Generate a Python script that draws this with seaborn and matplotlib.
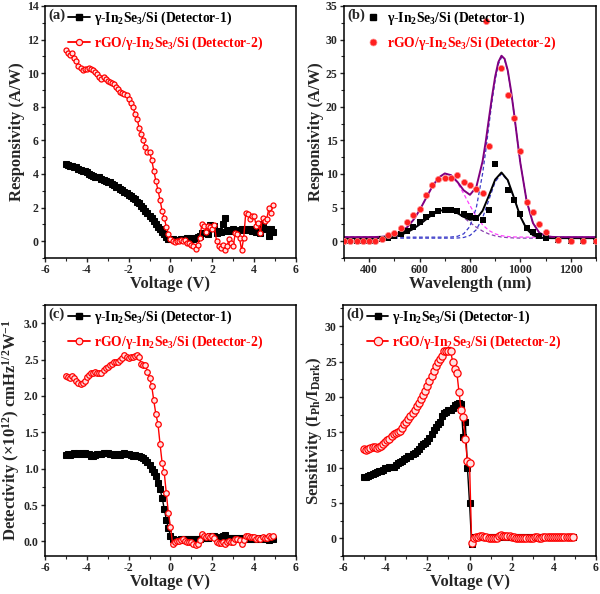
import numpy as np
import matplotlib
matplotlib.use("Agg")
import matplotlib.pyplot as plt
from matplotlib.lines import Line2D
from matplotlib.ticker import AutoMinorLocator, MultipleLocator, FormatStrFormatter
import seaborn as sns

# --- data ---
# voltage sweep (-5.0 ... 4.9 V, 0.1 V steps)
voltage = np.round(np.arange(-5.0, 4.95, 0.1), 1)

resp_det1 = [4.6, 4.55, 4.45, 4.45, 4.4, 4.4, 4.3, 4.25, 4.2, 4.15,
             4.1, 4.0, 3.95, 3.9, 3.85, 3.8, 3.8, 3.7, 3.65, 3.6,
             3.55, 3.5, 3.4, 3.35, 3.25, 3.2, 3.1, 3.05, 2.95, 2.85,
             2.75, 2.7, 2.6, 2.5, 2.35, 2.25, 2.1, 1.95, 1.8, 1.65,
             1.5, 1.38, 1.22, 1.05, 0.87, 0.7, 0.55, 0.4, 0.25, 0.15,
             0.1, 0.1, 0.05, 0.05, 0.05, 0.1, 0.1, 0.1, 0.2, 0.15,
             0.2, 0.15, 0.2, 0.25, 0.3, 0.5, 0.5, 0.5, 0.4, 0.95,
             0.8, 0.9, 0.5, 0.6, 0.55, 1.0, 1.35, 0.6, 0.65, 0.6,
             0.7, 0.6, 0.6, 0.65, 0.7, 0.7, 0.65, 0.7, 0.7, 0.6,
             0.6, 0.55, 0.65, 0.5, 1.0, 0.7, 0.75, 0.3, 0.75, 0.55]
resp_det2 = [11.4, 11.2, 11.1, 11.2, 10.9, 10.7, 10.45, 10.3, 10.2, 10.25,
             10.25, 10.3, 10.25, 10.2, 10.1, 9.95, 9.8, 9.65, 9.75, 9.65,
             9.55, 9.5, 9.4, 9.35, 9.2, 9.05, 8.9, 8.8, 8.75, 8.7,
             8.45, 8.2, 8.0, 7.6, 7.3, 6.75, 6.4, 6.0, 5.6, 5.3,
             5.3, 4.85, 4.2, 3.6, 3.05, 2.45, 1.8, 1.4, 0.85, 0.45,
             0.15, 0.0, -0.05, 0.0, 0.0, 0.05, 0.0, 0.05, -0.1, -0.1,
             -0.2, -0.3, -0.45, -0.2, 0.2, 1.0, 0.9, 0.55, 0.9, 0.85,
             0.75, 0.95, 0.0, -0.3, -0.4, -0.2, -0.5, -0.3, 0.1, -0.1,
             -0.3, 0.5, 0.45, 0.2, -0.55, 0.2, 1.7, 1.6, 1.3, 1.5,
             1.5, 0.9, 1.1, 0.5, 1.4, 1.2, 1.3, 1.95, 1.7, 2.15]

det_det1 = [1.19, 1.2, 1.19, 1.2, 1.21, 1.2, 1.21, 1.2, 1.21, 1.21,
            1.2, 1.2, 1.18, 1.18, 1.19, 1.2, 1.2, 1.2, 1.21, 1.21,
            1.22, 1.2, 1.2, 1.19, 1.2, 1.2, 1.19, 1.2, 1.21, 1.2,
            1.2, 1.19, 1.18, 1.19, 1.18, 1.17, 1.16, 1.14, 1.12, 1.09,
            1.05, 1.0, 0.96, 0.9, 0.8, 0.72, 0.6, 0.45, 0.3, 0.18,
            0.08, 0.03, 0.02, 0.02, 0.02, 0.03, 0.03, 0.03, 0.04, 0.03,
            0.04, 0.03, 0.03, 0.04, 0.04, 0.05, 0.05, 0.05, 0.05, 0.08,
            0.07, 0.07, 0.05, 0.06, 0.05, 0.07, 0.09, 0.05, 0.05, 0.05,
            0.05, 0.04, 0.05, 0.05, 0.04, 0.05, 0.05, 0.04, 0.05, 0.04,
            0.04, 0.05, 0.04, 0.04, 0.05, 0.04, 0.03, 0.02, 0.03, 0.03]
det_det2 = [2.27, 2.26, 2.25, 2.28, 2.24, 2.2, 2.18, 2.17, 2.18, 2.2,
            2.26, 2.29, 2.31, 2.32, 2.33, 2.32, 2.31, 2.31, 2.35, 2.39,
            2.4, 2.42, 2.44, 2.46, 2.47, 2.46, 2.49, 2.52, 2.56, 2.53,
            2.52, 2.54, 2.54, 2.55, 2.56, 2.53, 2.44, 2.42, 2.43, 2.33,
            2.24, 2.14, 1.94, 1.75, 1.62, 1.34, 1.08, 0.95, 0.66, 0.39,
            0.2, -0.03, -0.01, 0.0, 0.01, 0.02, 0.03, 0.0, -0.01, -0.01,
            -0.01, -0.03, -0.05, -0.03, 0.02, 0.1, 0.08, 0.06, 0.07, 0.06,
            0.07, 0.05, -0.01, -0.02, -0.02, -0.01, -0.03, -0.01, 0.0, -0.01,
            -0.01, 0.03, 0.03, 0.02, -0.03, 0.02, 0.08, 0.07, 0.06, 0.06,
            0.06, 0.04, 0.05, 0.03, 0.06, 0.05, 0.05, 0.07, 0.06, 0.08]

sens_det1 = [8.6, 8.7, 8.8, 8.9, 9.1, 9.2, 9.4, 9.45, 9.5, 9.7,
             9.9, 10.0, 10.05, 10.1, 10.1, 10.3, 10.6, 10.8, 11.0, 11.2,
             11.4, 11.6, 11.7, 11.9, 12.0, 12.3, 12.6, 13.0, 13.3, 13.5,
             13.8, 14.2, 14.8, 15.3, 15.7, 16.1, 16.5, 17.3, 17.7, 17.9,
             18.1, 18.2, 18.4, 18.8, 19.0, 19.1, 19.0, 14.3, 16.5, 10.0,
             5.0, -0.8, 0.2, 0.25, 0.2, 0.2, 0.25, 0.2, 0.2, 0.15,
             0.2, 0.2, 0.15, 0.2, 0.25, 0.3, 0.3, 0.25, 0.2, 0.2,
             0.2, 0.15, 0.15, 0.15, 0.15, 0.2, 0.2, 0.15, 0.15, 0.15,
             0.15, 0.2, 0.2, 0.15, 0.15, 0.2, 0.2, 0.2, 0.2, 0.2,
             0.2, 0.2, 0.2, 0.15, 0.2, 0.2, 0.2, 0.15, 0.2, 0.2]
sens_det2 = [12.6, 12.55, 12.6, 12.8, 12.9, 12.85, 12.8, 12.85, 13.0, 13.3,
             13.6, 13.9, 14.1, 14.4, 14.7, 14.9, 15.0, 15.2, 15.6, 16.1,
             16.5, 16.9, 17.3, 17.7, 18.2, 18.7, 19.2, 19.7, 20.2, 20.8,
             21.5, 22.3, 23.0, 23.7, 24.4, 25.0, 25.3, 25.8, 26.5, 26.5,
             26.5, 26.5, 25.0, 24.0, 23.4, 20.7, 18.2, 17.1, 14.0, 10.9,
             10.7, -0.6, 0.1, 0.2, 0.2, 0.3, 0.3, 0.2, 0.2, 0.1,
             0.1, 0.1, 0.0, 0.1, 0.3, 0.4, 0.35, 0.3, 0.3, 0.3,
             0.2, 0.15, 0.1, 0.05, 0.05, 0.05, 0.05, 0.05, 0.1, 0.1,
             0.1, 0.15, 0.15, 0.1, 0.1, 0.15, 0.2, 0.2, 0.2, 0.2,
             0.2, 0.2, 0.2, 0.15, 0.2, 0.2, 0.2, 0.2, 0.2, 0.2]

# spectral responsivity, measured points
wl_det1 = [325, 350, 375, 400, 425, 450, 475, 500, 525, 550, 575, 600, 625, 650, 675,
           700, 725, 750, 775, 800, 825, 850, 875, 900, 950, 975, 1000, 1025, 1050,
           1075, 1100, 1150, 1200, 1250, 1300]
spec_det1 = [0.0, 0.0, 0.0, 0.05, 0.1, 0.3, 0.5, 0.8, 1.1, 1.5, 2.1, 2.9, 3.6, 4.1, 4.5,
             4.6, 4.6, 4.5, 4.1, 3.7, 3.4, 3.1, 4.7, 11.5, 7.6, 6.2, 4.1, 2.0, 1.4,
             0.8, 0.4, 0.2, 0.1, 0.0, 0.0]
wl_det2 = [300, 325, 350, 375, 400, 425, 450, 475, 500, 525, 550, 575, 600, 625, 650,
           675, 700, 725, 750, 775, 800, 825, 850, 863, 875, 925, 950, 975, 1000,
           1025, 1050, 1075, 1100, 1150, 1200, 1250, 1300]
spec_det2 = [0.0, 0.0, 0.0, 0.0, 0.0, 0.0, 0.3, 0.9, 1.2, 1.9, 2.9, 3.9, 4.75, 6.9, 8.3,
             9.2, 9.45, 9.45, 9.8, 8.8, 8.4, 7.8, 7.2, 32.7, 14.1, 25.8, 21.8, 18.4, 13.35,
             5.8, 4.35, 2.6, 1.4, 0.2, 0.05, 0.0, 0.0]

# fitted curves (two-peak fits)
wl_fit = [300, 400, 425, 450, 475, 500, 525, 550, 575, 600, 625, 650, 675, 700, 725,
          750, 775, 800, 825, 850, 875, 900, 925, 950, 975, 1000, 1025, 1050, 1075,
          1100, 1125, 1150, 1300]
fit_det1 = [0.45, 0.46, 0.47, 0.51, 0.58, 0.71, 0.94, 1.31, 1.83, 2.49, 3.22, 3.93, 4.45, 4.7, 4.59,
            4.18, 3.62, 3.18, 3.33, 4.52, 6.77, 9.17, 10.22, 9.09, 6.42, 3.66, 1.8, 0.89, 0.56,
            0.47, 0.45, 0.45, 0.45]
peak1_det1 = [0.45, 0.46, 0.47, 0.51, 0.58, 0.71, 0.94, 1.31, 1.83, 2.49, 3.22, 3.93, 4.45, 4.7, 4.59,
              4.16, 3.52, 2.78, 2.08, 1.5, 1.07, 0.79, 0.62, 0.53, 0.48, 0.46, 0.45, 0.45, 0.45,
              0.45, 0.45, 0.45, 0.45]
peak2_det1 = [0.45, 0.45, 0.45, 0.45, 0.45, 0.45, 0.45, 0.45, 0.45, 0.45, 0.45, 0.45, 0.45, 0.45, 0.45,
              0.47, 0.55, 0.85, 1.7, 3.47, 6.15, 8.83, 10.05, 9.01, 6.39, 3.66, 1.8, 0.89, 0.56,
              0.47, 0.45, 0.45, 0.45]
peak1_det2 = [0.6, 0.61, 0.62, 0.66, 0.75, 0.96, 1.36, 2.05, 3.14, 4.6, 6.36, 8.1, 9.45, 10.08, 9.8,
              8.71, 7.08, 5.29, 3.68, 2.44, 1.59, 1.09, 0.82, 0.69, 0.63, 0.61, 0.6, 0.6, 0.6,
              0.6, 0.6, 0.6, 0.6]
wl_fit2 = [300, 400, 425, 450, 475, 500, 525, 550, 575, 600, 625, 650, 675, 700, 725,
           750, 775, 800, 825, 850, 862.5, 875, 887.5, 900, 912.5, 925, 937.5, 950, 962.5,
           975, 987.5, 1000, 1025, 1050, 1075, 1100, 1125, 1150, 1300]
fit_det2 = [0.6, 0.61, 0.62, 0.66, 0.75, 0.96, 1.36, 2.05, 3.14, 4.6, 6.36, 8.1, 9.45, 10.08, 9.82,
            8.83, 7.57, 6.9, 8.03, 11.88, 14.81, 18.2, 21.53, 24.5, 26.65, 27.6, 27.13, 25.4, 22.49,
            19.0, 15.22, 11.6, 5.94, 2.69, 1.26, 0.77, 0.64, 0.6, 0.6]
peak2_det2 = [0.6, 0.6, 0.6, 0.6, 0.6, 0.6, 0.6, 0.6, 0.6, 0.6, 0.6, 0.6, 0.6, 0.6, 0.62,
              0.72, 1.09, 2.21, 4.95, 10.04, 13.44, 17.2, 20.83, 24.0, 26.32, 27.38, 26.99, 25.3, 22.45,
              18.95, 15.21, 11.6, 5.94, 2.69, 1.26, 0.77, 0.64, 0.6, 0.6]

label1 = "\u03b3-In$_2$Se$_3$/Si (Detector-1)"
label2 = "rGO/\u03b3-In$_2$Se$_3$/Si (Detector-2)"

# --- style ---
sns.set_style("ticks")
plt.rcParams["font.family"] = ["Liberation Serif", "DejaVu Serif"]
plt.rcParams["font.weight"] = "bold"
plt.rcParams["axes.labelweight"] = "bold"
plt.rcParams["axes.unicode_minus"] = False
plt.rcParams["mathtext.fontset"] = "custom"
plt.rcParams["mathtext.rm"] = "Liberation Serif:bold"
plt.rcParams["mathtext.it"] = "Liberation Serif:bold"
plt.rcParams["mathtext.bf"] = "Liberation Serif:bold"
plt.rcParams["mathtext.default"] = "rm"

LEG_SIZE = 9.8

fig = plt.figure(figsize=(6.0, 5.94), dpi=100)
ax_a = fig.add_axes([0.075, 0.5657, 0.4183, 0.4242])
ax_b = fig.add_axes([0.5733, 0.5657, 0.42, 0.4242])
ax_c = fig.add_axes([0.075, 0.064, 0.4183, 0.4226])
ax_d = fig.add_axes([0.5717, 0.064, 0.4217, 0.4226])


def style_axis(ax, xlabel, ylabel):
    ax.set_xlabel(xlabel, fontsize=12, labelpad=0)
    ax.set_ylabel(ylabel, fontsize=12, labelpad=1)
    ax.xaxis.set_minor_locator(AutoMinorLocator(2))
    ax.yaxis.set_minor_locator(AutoMinorLocator(2))
    ax.tick_params(which="major", direction="out", length=3, width=1, labelsize=8.5, pad=1.5)
    ax.tick_params(which="minor", direction="out", length=2, width=0.8)
    for s in ax.spines.values():
        s.set_visible(True)
        s.set_linewidth(1.1)
        s.set_color("black")
    for lab in ax.get_xticklabels() + ax.get_yticklabels():
        lab.set_fontweight("bold")


def add_legend(ax, tag, handles, x_leg, hlen, hpad):
    ax.text(0.012, 0.99, tag, transform=ax.transAxes, ha="left", va="top",
            fontsize=10.5, fontweight="bold")
    ax.legend(handles, [label1, label2], loc="upper left", bbox_to_anchor=(x_leg, 1.0),
              frameon=False, handlelength=hlen, handletextpad=hpad, labelspacing=0.55,
              borderaxespad=0.15, borderpad=0.1,
              labelcolor=["black", "red"], prop={"weight": "bold", "size": LEG_SIZE})


def iv_panel(ax, y1, y2, red_ms, tag):
    sns.lineplot(x=voltage, y=y1, ax=ax, color="black", lw=1, marker="s", ms=4.0,
                 mec="black", mfc="black", errorbar=None, sort=False)
    sns.lineplot(x=voltage, y=y2, ax=ax, color="red", lw=1, marker="o", ms=red_ms,
                 mec="red", mfc="#ffe0e0", mew=0.9, errorbar=None, sort=False)
    ax.set_xlim(-6, 6)
    ax.xaxis.set_major_locator(MultipleLocator(2))
    h1 = Line2D([], [], color="black", lw=1.3, marker="s", ms=4.5)
    h2 = Line2D([], [], color="red", lw=1.3, marker="o", ms=red_ms + 0.8, mfc="#ffe0e0", mew=0.9)
    add_legend(ax, tag, [h1, h2], 0.08, 1.6, 0.25)


# (a) responsivity vs voltage
iv_panel(ax_a, resp_det1, resp_det2, 3.6, "(a)")
ax_a.set_ylim(-1, 14)
ax_a.yaxis.set_major_locator(MultipleLocator(2))
style_axis(ax_a, "Voltage (V)", "Responsivity (A/W)")

# (b) spectral responsivity with fits
sns.lineplot(x=wl_fit, y=peak1_det1, ax=ax_b, color="#8a3fb0", lw=0.9, linestyle=(0, (3, 2)), errorbar=None)
sns.lineplot(x=wl_fit, y=peak2_det1, ax=ax_b, color="#3a3ac8", lw=0.9, linestyle=(0, (3, 2)), errorbar=None)
sns.lineplot(x=wl_fit, y=peak1_det2, ax=ax_b, color="#ff40ff", lw=0.9, linestyle=(0, (3, 2)), errorbar=None)
sns.lineplot(x=wl_fit2, y=peak2_det2, ax=ax_b, color="#3a3ac8", lw=0.9, linestyle=(0, (3, 2)), errorbar=None)
sns.lineplot(x=wl_fit, y=fit_det1, ax=ax_b, color="black", lw=1.4, errorbar=None)
sns.lineplot(x=wl_fit2, y=fit_det2, ax=ax_b, color="#800080", lw=1.4, errorbar=None)
sns.scatterplot(x=wl_det1, y=spec_det1, ax=ax_b, color="black", marker="s", s=14, linewidth=0, zorder=5)
sns.scatterplot(x=wl_det2, y=spec_det2, ax=ax_b, color="#ff2020", marker="o", s=20,
                edgecolor="#ff9090", linewidth=0.5, zorder=5)
ax_b.set_xlim(300, 1300)
ax_b.set_ylim(-2.5, 35)
ax_b.xaxis.set_major_locator(MultipleLocator(200))
ax_b.yaxis.set_major_locator(MultipleLocator(5))
hb1 = Line2D([], [], color="black", lw=0, marker="s", ms=4)
hb2 = Line2D([], [], color="#ff2020", lw=0, marker="o", ms=5, mec="#ff9090", mew=0.5)
add_legend(ax_b, "(b)", [hb1, hb2], 0.048, 2.0, 0.05)
style_axis(ax_b, "Wavelength (nm)", "Responsivity (A/W)")

# (c) detectivity
iv_panel(ax_c, det_det1, det_det2, 4.0, "(c)")
ax_c.set_ylim(-0.2, 3.25)
ax_c.yaxis.set_major_locator(MultipleLocator(0.5))
ax_c.yaxis.set_major_formatter(FormatStrFormatter("%.1f"))
style_axis(ax_c, "Voltage (V)", "Detectivity (\u00d710$^{12}$) cmHz$^{1/2}$W$^{-1}$")

# (d) sensitivity
iv_panel(ax_d, sens_det1, sens_det2, 5.2, "(d)")
ax_d.set_ylim(-2.5, 33)
ax_d.yaxis.set_major_locator(MultipleLocator(5))
style_axis(ax_d, "Voltage (V)", "Sensitivity (I$_{Ph}$/I$_{Dark}$)")

fig.savefig("out.png", dpi=100)
